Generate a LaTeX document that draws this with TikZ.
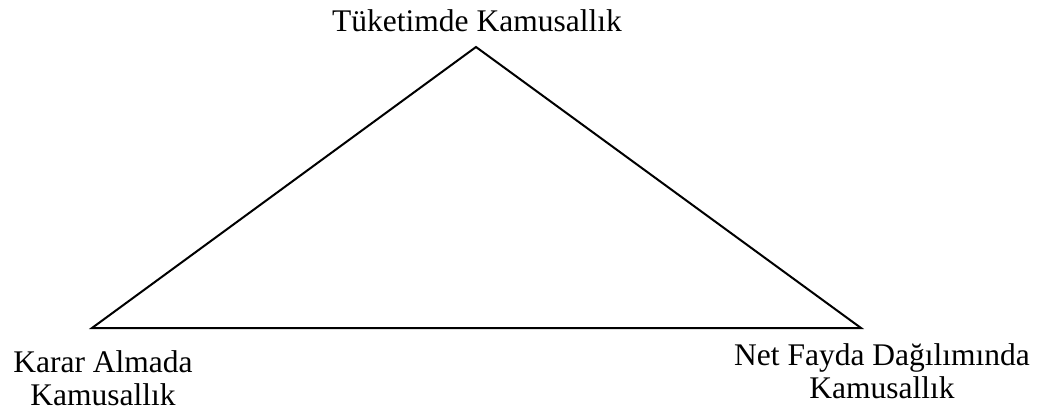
\documentclass[tikz,border=0pt]{standalone}
\usepackage{fontspec}
\setmainfont{Liberation Serif}
\begin{document}
\begin{tikzpicture}[x=1pt,y=-1pt,
  lbl/.style={font=\fontsize{31.5}{33}\selectfont, align=center, inner sep=0pt, anchor=base},
  edge/.style={draw=black, line width=2pt, line join=miter}]
\useasboundingbox (0,0) rectangle (1050,414);
\coordinate (apex) at (476,47);
\coordinate (bl) at (92,328);
\coordinate (br) at (861,328);
\draw[edge] (apex) -- (bl) -- (br) -- cycle;
\node[lbl] (top) at (477,32) {Tüketimde Kamusallık};
\node[lbl] (left) at (103,405) {Karar Almada\\Kamusallık};
\node[lbl] (right) at (882,398) {Net Fayda Dağılımında\\Kamusallık};
\end{tikzpicture}
\end{document}
